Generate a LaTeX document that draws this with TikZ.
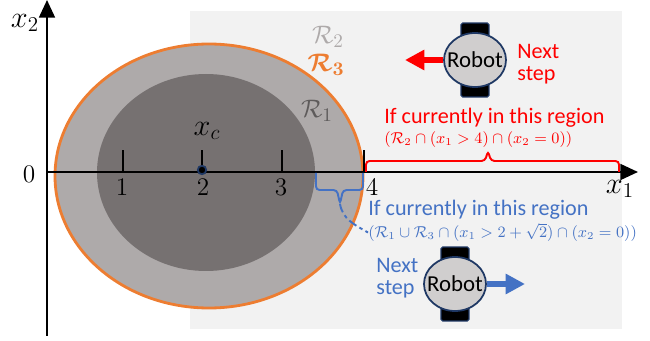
\documentclass[tikz,border=0pt]{standalone}
\usepackage{amsmath}
\usepackage{fontspec}
\setmainfont{Carlito}
\usetikzlibrary{shapes.geometric,arrows.meta}
\definecolor{panelgray}{HTML}{F2F2F2}
\definecolor{outergray}{HTML}{AEAAAA}
\definecolor{innergray}{HTML}{767171}
\definecolor{rthree}{HTML}{ED7D31}
\definecolor{nextblue}{HTML}{4472C4}
\definecolor{robotnavy}{HTML}{1F3864}
\definecolor{robotfill}{HTML}{D0CECE}
\tikzset{
  axisline/.style={line width=1.2pt,-{Triangle[length=10pt,width=9pt]}},
  tickline/.style={line width=1.4pt},
  robotbody/.style={ellipse,draw=robotnavy,line width=1pt,fill=robotfill,minimum width=1.24cm,minimum height=1.08cm,inner xsep=-0.12cm,inner ysep=0pt,font=\fontsize{13}{14}\selectfont},
  robotstrap/.style={rectangle,rounded corners=1pt,draw=robotnavy,line width=0.7pt,fill=black,minimum width=0.56cm,minimum height=1.48cm,inner sep=0pt},
  steparrow/.style={line width=3.4pt,-{Triangle[length=11pt,width=11pt]}},
  bracket/.style={line width=1.1pt,rounded corners=2pt},
  lbl/.style={font=\fontsize{12.6}{12.5}\selectfont,inner sep=0pt},
  mathlbl/.style={font=\fontsize{15}{16}\selectfont,inner sep=0pt},
  bigmath/.style={font=\fontsize{17}{18}\selectfont,inner sep=0pt},
  formula/.style={font=\fontsize{9}{10}\selectfont,inner sep=0pt,anchor=west}
}
\begin{document}
\begin{tikzpicture}[x=0.02cm,y=-0.02cm]
\useasboundingbox (0,0) rectangle (650,341);
% Regions
\fill[panelgray] (189.5,11) rectangle (622,329);
\draw[fill=outergray,draw=rthree,line width=1.6pt] (209,176) ellipse [x radius=154,y radius=132];
\fill[innergray] (206,172.5) ellipse [x radius=109,y radius=98.5];
% Axes
\coordinate (origin) at (47,172);
\coordinate (xend) at (638,172);
\coordinate (ybot) at (47,336);
\coordinate (yend) at (47,0);
\draw[axisline] (origin)--(xend);
\draw[axisline] (ybot)--(yend);
\foreach \n/\px/\lx in {1/123/122,2/202/203,3/282/281,4/364/372} {
  \coordinate (tick\n) at (\px,172);
  \coordinate (tock\n) at (\px,150);
  \draw[tickline] (tick\n)--(tock\n);
  \node[mathlbl] (num\n) at (\lx,187) {$\n$};
}
\node[mathlbl] (zero) at (29,174) {$0$};
\node[bigmath] (xtwo) at (25,23) {$x_2$};
\node[bigmath] (xone) at (620,189) {$x_1$};
\node[bigmath] (xc) at (207,131) {$x_c$};
\node[circle,fill=black,draw=robotnavy,line width=1pt,minimum size=0.17cm,inner sep=0pt] (center) at (202,170) {};
% Region names
\node[mathlbl,text=outergray] (rtwo) at (328,37) {$\mathcal{R}_2$};
\node[mathlbl,text=rthree] (rthr) at (326,65) {$\boldsymbol{\mathcal{R}_3}$};
\node[mathlbl,text=innergray!80!black] (rone) at (317,111) {$\mathcal{R}_1$};
% Upper robot
\node[robotstrap] (strapup) at (475,60) {};
\node[robotbody] (robotup) at (475,60) {Robot};
\coordinate (targetup) at (405,60);
\draw[steparrow,red] (robotup)--(targetup);
\node[lbl,text=red,align=left,anchor=west] (nextup) at (517,64) {Next\\step};
\node[lbl,text=red,anchor=west] (ifup) at (384,118) {If currently in this region};
\node[formula,text=red] (setup) at (384,139.5) {$(\mathcal{R}_2\cap(x_1>4)\cap(x_2=0))$};
\draw[bracket,red] (366,172)--(366,161)--(485,161)--(488,151)--(491,161)--(619,161)--(619,172);
% Lower robot
\node[robotstrap] (strapdn) at (455,284) {};
\node[robotbody] (robotdn) at (455,284) {Robot};
\coordinate (targetdn) at (525,284);
\draw[steparrow,nextblue] (robotdn)--(targetdn);
\node[lbl,text=nextblue,align=left,anchor=west] (nextdn) at (376,278) {Next\\step};
\node[lbl,text=nextblue,anchor=west] (ifdn) at (368,210) {If currently in this region};
\node[formula,text=nextblue] (setdn) at (368,232.5) {$(\mathcal{R}_1\cup\mathcal{R}_3\cap(x_1>2+\sqrt{2})\cap(x_2=0))$};
\draw[bracket,nextblue] (316,173)--(316,190)--(337,190)--(340,204)--(343,190)--(363,190)--(363,173);
\draw[nextblue,line width=1.1pt,dash pattern=on 5pt off 2pt on 2pt off 2pt] (340,204) to[out=-80,in=150] (setdn.west);
\end{tikzpicture}
\end{document}
